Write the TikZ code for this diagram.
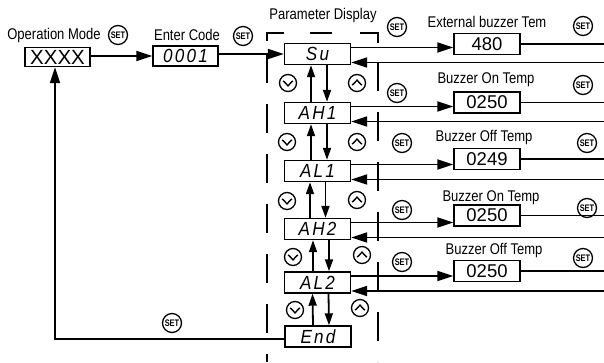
\documentclass[tikz,border=0pt]{standalone}
\usepackage{fontspec}
\setmainfont{Liberation Sans}
\newfontfamily\lblfont[FakeStretch=0.84]{Liberation Sans}
\newfontfamily\setfont[FakeStretch=0.78]{Liberation Sans}
\newfontfamily\segfont[LetterSpace=12,FakeStretch=0.9]{Liberation Sans}
\usetikzlibrary{arrows.meta}
\tikzset{
  lbl/.style={font=\lblfont\fontsize{15.5}{17}\selectfont, inner sep=0pt},
  valbox/.style={draw, line width=1.4pt, minimum width=66pt, minimum height=21pt, inner sep=0pt, font=\fontsize{18.5}{18}\selectfont},
  segbox/.style={draw, line width=1.4pt, minimum width=66pt, minimum height=21pt, inner sep=0pt, font=\segfont\itshape\fontsize{19}{19}\selectfont},
  setbtn/.style={draw, circle, line width=1.3pt, minimum size=19pt, inner sep=0pt, font=\setfont\bfseries\fontsize{9.5}{9.5}\selectfont},
  conn/.style={line width=1.8pt},
  arr/.style={conn, -{Triangle[length=16pt,width=10pt]}},
  varr/.style={conn, -{Triangle[length=12pt,width=8pt]}},
  dl/.style={line width=1.7pt},
  dnbtn/.style={draw, circle, line width=1.3pt, minimum size=17pt, inner sep=0pt,
    path picture={\draw[line width=1.4pt]
      ([xshift=-4.8pt,yshift=2.2pt]path picture bounding box.center) --
      ([yshift=-2.8pt]path picture bounding box.center) --
      ([xshift=4.8pt,yshift=2.2pt]path picture bounding box.center);}},
  upbtn/.style={draw, circle, line width=1.3pt, minimum size=17pt, inner sep=0pt,
    path picture={\draw[line width=1.4pt]
      ([xshift=-4.8pt,yshift=-2.2pt]path picture bounding box.center) --
      ([yshift=2.8pt]path picture bounding box.center) --
      ([xshift=4.8pt,yshift=-2.2pt]path picture bounding box.center);}},
}
\begin{document}
\begin{tikzpicture}[x=1pt, y=-1pt]
\useasboundingbox (0,0) rectangle (604,362);
\coordinate (edge) at (604,0);

% left part
\node[lbl] (opl) at (54,35) {Operation Mode};
\node[setbtn] (s0) at (118,35) {SET};
\node[valbox, minimum width=65pt, minimum height=19pt, font=\fontsize{20.5}{20}\selectfont] (xx) at (57.5,57) {XXXX};
\node[lbl] (ecl) at (187,35) {Enter Code};
\node[setbtn] (s1) at (243,36) {SET};
\node[segbox, minimum width=65pt, minimum height=20pt] (code) at (185.5,56) {0001};
\node[lbl] (pdl) at (323,15) {Parameter Display};

% dashed frame
\draw[dl] (267,41) -- (267,33) -- (284,33);
\draw[dl] (310,33) -- (332,33);
\draw[dl] (360,33) -- (378,33) -- (378,43);
\draw[dl, dash pattern=on 29pt off 21pt] (267,54) -- (267,362);
\draw[dl, dash pattern=on 29pt off 21pt] (378,62) -- (378,362);

% parameter boxes
\node[segbox] (p1) at (317.5,54) {Su};
\node[segbox] (p2) at (317.5,113) {AH1};
\node[segbox] (p3) at (317.5,171) {AL1};
\node[segbox] (p4) at (317.5,229) {AH2};
\node[segbox] (p5) at (317.5,282.5) {AL2};
\node[segbox] (p6) at (318,336.5) {End};

% value boxes
\node[valbox] (v1) at (487,44) {480};
\node[valbox] (v2) at (487,102.5) {0250};
\node[valbox] (v3) at (487,159) {0249};
\node[valbox] (v4) at (487,215.5) {0250};
\node[valbox] (v5) at (487,271) {0250};

% labels
\node[lbl] (l1) at (487,22) {External buzzer Tem};
\node[lbl] (l2) at (486,80) {Buzzer On Temp};
\node[lbl] (l3) at (484,137) {Buzzer Off Temp};
\node[lbl] (l4) at (491,198) {Buzzer On Temp};
\node[lbl] (l5) at (494,250) {Buzzer Off Temp};

% SET buttons
\node[setbtn] (sa1) at (397,27) {SET};
\node[setbtn] (sa2) at (397,93) {SET};
\node[setbtn] (sa3) at (402,143) {SET};
\node[setbtn] (sa4) at (402,210) {SET};
\node[setbtn] (sa5) at (402,262) {SET};
\node[setbtn] (sb1) at (583,26) {SET};
\node[setbtn] (sb2) at (583,85) {SET};
\node[setbtn] (sb3) at (587,143) {SET};
\node[setbtn] (sb4) at (587,208) {SET};
\node[setbtn] (sb5) at (583,258) {SET};
\node[setbtn] (sf) at (172,323) {SET};

% up/down buttons
\node[dnbtn] (d1) at (288,83) {};
\node[upbtn] (u1) at (357,83) {};
\node[dnbtn] (d2) at (287,142) {};
\node[upbtn] (u2) at (357,142) {};
\node[dnbtn] (d3) at (287,201) {};
\node[upbtn] (u3) at (357,200) {};
\node[dnbtn] (d4) at (293,257) {};
\node[upbtn] (u4) at (362,255) {};
\node[dnbtn] (d5) at (295,310) {};
\node[upbtn] (u5) at (360,308) {};

% top connectors
\draw[arr] (code.west -| xx.east) -- (code.west);
\draw[arr] (p1.west -| code.east) -- (p1.west);

% out / value / return lines
\foreach \i in {1,...,5}{
  \draw[arr] ([yshift=6.5pt]p\i.east) coordinate (o\i) -- (o\i -| v\i.west);
  \draw[conn] (v\i.east) -- (v\i.east -| edge);
  \draw[arr] ([yshift=-8.5pt]p\i.east -| edge) -- ([yshift=-8.5pt]p\i.east);
}

% vertical arrows
\draw[varr] ([xshift=-6.5pt]p2.north) -- ([xshift=-6.5pt]p1.south);
\draw[varr] ([xshift=9.5pt]p1.south) -- ([xshift=9.5pt]p2.north);
\draw[varr] ([xshift=-6.5pt]p3.north) -- ([xshift=-6.5pt]p2.south);
\draw[varr] ([xshift=9.5pt]p2.south) -- ([xshift=9.5pt]p3.north);
\draw[varr] ([xshift=-7.5pt]p4.north) -- ([xshift=-7.5pt]p3.south);
\draw[varr] ([xshift=8pt]p3.south) -- ([xshift=8pt]p4.north);
\draw[varr] ([xshift=-4.5pt]p5.north) -- ([xshift=-4.5pt]p4.south);
\draw[varr] ([xshift=11.5pt]p4.south) -- ([xshift=11.5pt]p5.north);
\draw[varr] ([xshift=-5pt]p6.north) -- ([xshift=-5pt]p5.south);
\draw[varr] ([xshift=11pt]p5.south) -- ([xshift=11pt]p6.north);

% feedback
\coordinate (fb) at (55,339);
\draw[arr] (fb -| p6.west) -- (fb) -- (fb |- xx.south);
\end{tikzpicture}
\end{document}
